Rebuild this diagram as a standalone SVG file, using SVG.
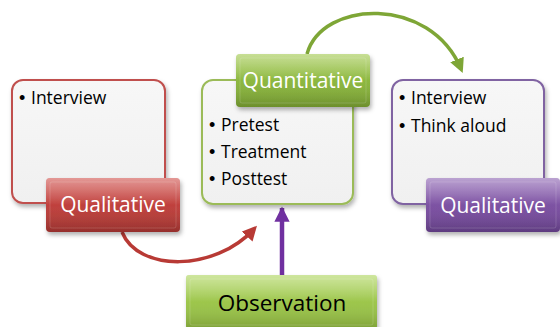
<svg xmlns="http://www.w3.org/2000/svg" width="560" height="327" viewBox="0 0 560 327">
  <defs>
    <filter id="sh" x="-20%" y="-20%" width="140%" height="150%">
      <feDropShadow dx="1.5" dy="3" stdDeviation="2" flood-color="#000" flood-opacity="0.3"/>
    </filter>
    <linearGradient id="boxg" x1="0" y1="0" x2="0" y2="1">
      <stop offset="0" stop-color="#f7f7f7"/>
      <stop offset="1" stop-color="#f0f0f0"/>
    </linearGradient>
    <linearGradient id="redg" x1="0" y1="0" x2="0" y2="1">
      <stop offset="0" stop-color="#d4605c"/>
      <stop offset="0.5" stop-color="#c0413d"/>
      <stop offset="1" stop-color="#a93531"/>
    </linearGradient>
    <linearGradient id="grng" x1="0" y1="0" x2="0" y2="1">
      <stop offset="0" stop-color="#a9cd5c"/>
      <stop offset="0.5" stop-color="#8db840"/>
      <stop offset="1" stop-color="#7aa232"/>
    </linearGradient>
    <linearGradient id="obsg" x1="0" y1="0" x2="0" y2="1">
      <stop offset="0" stop-color="#b4d86a"/>
      <stop offset="0.5" stop-color="#9dc64c"/>
      <stop offset="1" stop-color="#8eb63e"/>
    </linearGradient>
    <linearGradient id="purg" x1="0" y1="0" x2="0" y2="1">
      <stop offset="0" stop-color="#9670b8"/>
      <stop offset="0.5" stop-color="#7d52a3"/>
      <stop offset="1" stop-color="#6a4290"/>
    </linearGradient>
    <linearGradient id="shine" x1="0" y1="0" x2="0" y2="1">
      <stop offset="0" stop-color="#fff" stop-opacity="0.35"/>
      <stop offset="0.5" stop-color="#fff" stop-opacity="0"/>
      <stop offset="1" stop-color="#000" stop-opacity="0.12"/>
    </linearGradient>
    <marker id="ahR" viewBox="0 0 10 10" refX="7" refY="5" markerWidth="4.2" markerHeight="4.2" orient="auto">
      <path d="M0,0 L10,5 L0,10 z" fill="#b83a35"/>
    </marker>
    <marker id="ahG" viewBox="0 0 10 10" refX="7" refY="5" markerWidth="4.2" markerHeight="4.2" orient="auto">
      <path d="M0,0 L10,5 L0,10 z" fill="#7ea636"/>
    </marker>
    <marker id="ahP" viewBox="0 0 10 10" refX="9" refY="5" markerWidth="3.4" markerHeight="3.4" orient="auto">
      <path d="M0,0 L10,5 L0,10 z" fill="#7030a0"/>
    </marker>
  </defs>
  <style>
    text { font-family: "Open Sans", "Liberation Sans", sans-serif; }
    .box { fill: url(#boxg); stroke-width: 2; filter: url(#sh); }
    .bul { font-size: 17.5px; fill: #000; }
    .dot { font-family: "Liberation Sans", sans-serif; font-size: 18px; }
    .btn { font-size: 21px; fill: #fff; text-anchor: middle; }
    .obs { font-size: 22.5px; fill: #000; text-anchor: middle; }
    .bev { fill: url(#shine); }
  </style>

  <g id="connectors" fill="none">
    <path d="M122,232 C138,272 215,272 254,229" stroke="#b83a35" stroke-width="3.5" marker-end="url(#ahR)"/>
    <path d="M307,54 C322,0 430,-5 461,69" stroke="#7ea636" stroke-width="3.5" marker-end="url(#ahG)"/>
    <path d="M282,275 L282,208" stroke="#7030a0" stroke-width="4.5" marker-end="url(#ahP)"/>
  </g>

  <g id="qual-left">
    <rect class="box" x="12" y="80" width="153" height="123" rx="11" stroke="#c0504d"/>
    <text class="bul"><tspan class="dot" x="19" y="104">•</tspan><tspan x="31" y="104">Interview</tspan></text>
    <rect x="46" y="178" width="134" height="54" rx="4" fill="url(#redg)" filter="url(#sh)"/>
    <rect class="bev" x="46" y="178" width="134" height="54" rx="4"/>
    <rect x="50" y="182" width="126" height="46" rx="2" fill="none" stroke="#fff" stroke-opacity="0.15"/>
    <text class="btn" x="113" y="212">Qualitative</text>
  </g>

  <g id="quant-mid">
    <rect class="box" x="202" y="80" width="151" height="124" rx="11" stroke="#9bbb59"/>
    <text class="bul"><tspan class="dot" x="209" y="131">•</tspan><tspan x="221" y="131">Pretest</tspan></text>
    <text class="bul"><tspan class="dot" x="209" y="158">•</tspan><tspan x="221" y="158">Treatment</tspan></text>
    <text class="bul"><tspan class="dot" x="209" y="185">•</tspan><tspan x="221" y="185">Posttest</tspan></text>
    <rect x="236" y="54" width="134" height="53" rx="4" fill="url(#grng)" filter="url(#sh)"/>
    <rect class="bev" x="236" y="54" width="134" height="53" rx="4"/>
    <rect x="240" y="58" width="126" height="45" rx="2" fill="none" stroke="#fff" stroke-opacity="0.15"/>
    <text class="btn" x="303" y="88">Quantitative</text>
  </g>

  <g id="qual-right">
    <rect class="box" x="392" y="80" width="152" height="124" rx="11" stroke="#8064a2"/>
    <text class="bul"><tspan class="dot" x="399" y="104">•</tspan><tspan x="411" y="104">Interview</tspan></text>
    <text class="bul"><tspan class="dot" x="399" y="132">•</tspan><tspan x="411" y="132">Think aloud</tspan></text>
    <rect x="426" y="178" width="134" height="54" rx="4" fill="url(#purg)" filter="url(#sh)"/>
    <rect class="bev" x="426" y="178" width="134" height="54" rx="4"/>
    <rect x="430" y="182" width="126" height="46" rx="2" fill="none" stroke="#fff" stroke-opacity="0.15"/>
    <text class="btn" x="493" y="213">Qualitative</text>
  </g>

  <g id="observation">
    <rect x="186" y="275" width="191" height="54" rx="3" fill="url(#obsg)" filter="url(#sh)"/>
    <rect class="bev" x="186" y="275" width="191" height="54" rx="3"/>
    <rect x="190" y="279" width="183" height="46" rx="2" fill="none" stroke="#fff" stroke-opacity="0.15"/>
    <text class="obs" x="282" y="311">Observation</text>
  </g>
</svg>
